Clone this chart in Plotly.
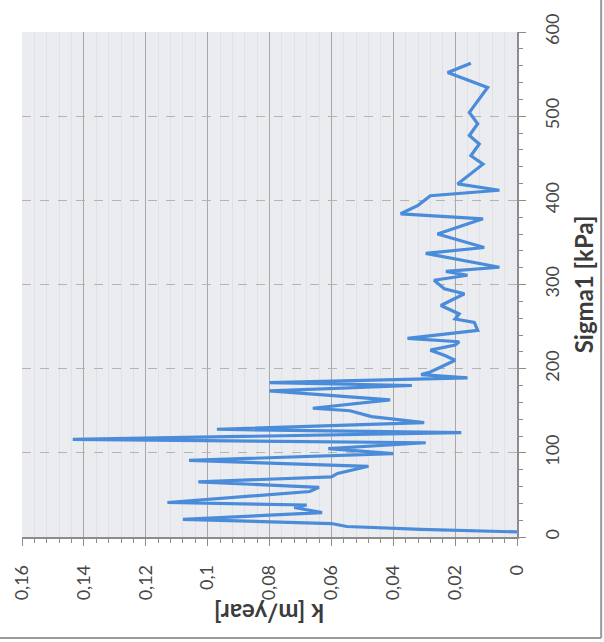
import plotly.graph_objects as go

# Permeability k [m/year] against axial stress Sigma1 [kPa]
sigma1 = [6, 9, 12.5, 16, 21, 29, 35, 38, 41, 54, 59, 65.5, 71.5, 75.5, 84,
          91, 99, 105, 112, 116, 124, 128, 136, 143, 150, 153, 163, 173.5,
          180, 183.5, 189, 193, 196, 210, 216, 222, 228, 232, 236, 241.5,
          245.5, 255, 259, 265, 275, 289, 295, 305, 311, 315.5, 320.5, 337,
          344, 360, 378, 384, 394, 405.5, 412, 419.5, 443, 453, 467, 477,
          491, 504.5, 534, 552, 563]
k_values = [0.000, 0.031, 0.055, 0.060, 0.108, 0.063, 0.072, 0.068, 0.113,
            0.067, 0.064, 0.103, 0.060, 0.058, 0.048, 0.106, 0.040, 0.061,
            0.0295, 0.1436, 0.018, 0.097, 0.030, 0.047, 0.054, 0.066, 0.041,
            0.080, 0.034, 0.080, 0.016, 0.031, 0.028, 0.020, 0.0235, 0.028,
            0.020, 0.0187, 0.0354, 0.0225, 0.0127, 0.0138, 0.020, 0.0187,
            0.0246, 0.017, 0.0235, 0.0268, 0.016, 0.023, 0.0057, 0.0295,
            0.0106, 0.0257, 0.011, 0.0376, 0.032, 0.028, 0.0057, 0.0192,
            0.011, 0.0149, 0.0122, 0.0154, 0.0127, 0.0154, 0.0095, 0.0224,
            0.0149]

k_ticks = [0, 0.02, 0.04, 0.06, 0.08, 0.10, 0.12, 0.14, 0.16]
k_tick_labels = ["0", "0,02", "0,04", "0,06", "0,08", "0,1", "0,12", "0,14", "0,16"]
sigma_ticks = [0, 100, 200, 300, 400, 500, 600]
sigma_tick_labels = ["0", "100", "200", "300", "400", "500", "600"]

FONT = "Lato, Liberation Sans, sans-serif"
TEXT = "#474747"
AXIS = "#8c8c8c"

fig = go.Figure()
fig.add_trace(go.Scatter(
    x=k_values, y=sigma1, mode="lines",
    line=dict(color="#4b8cda", width=3.2),
    showlegend=False, hoverinfo="skip",
))

fig.update_layout(
    template="none",
    width=604, height=642,
    margin=dict(l=22, r=87, t=32, b=105, autoexpand=False),
    paper_bgcolor="white",
    plot_bgcolor="#eaecf0",
    font=dict(family=FONT, color=TEXT),
    xaxis=dict(
        range=[0.16, 0], autorange=False, automargin=False,
        tickvals=k_ticks, ticktext=k_tick_labels, tickangle=-90,
        tickfont=dict(size=18, color=TEXT),
        ticks="outside", ticklen=7, tickcolor=AXIS, tickwidth=1,
        ticklabelstandoff=12,
        showline=True, linecolor=AXIS, linewidth=1.5, mirror=False,
        showgrid=True, gridcolor="#a8a8a8", gridwidth=1,
        zeroline=False,
        minor=dict(dtick=0.004, ticks="outside", ticklen=4, tickcolor=AXIS,
                   showgrid=True, gridcolor="#dfe1e6", gridwidth=1),
    ),
    yaxis=dict(
        range=[0, 600], autorange=False, automargin=False, side="right",
        tickvals=sigma_ticks, ticktext=sigma_tick_labels, tickangle=-90,
        tickfont=dict(size=18, color=TEXT),
        ticks="outside", ticklen=7, tickcolor=AXIS, tickwidth=1,
        ticklabelstandoff=12,
        showline=True, linecolor=AXIS, linewidth=1.5,
        showgrid=True, gridcolor="#b4b4b4", gridwidth=1, griddash="dash",
        zeroline=False,
        minor=dict(dtick=20, ticks="outside", ticklen=4, tickcolor=AXIS,
                   showgrid=False),
    ),
    annotations=[
        dict(text="<b>Sigma1 [kPa]</b>", xref="paper", yref="paper",
             x=1.135, y=0.5, textangle=-90, showarrow=False,
             xanchor="center", yanchor="middle",
             font=dict(size=24, color="#3c3c3c", family=FONT)),
        dict(text="<b>k [m/year]</b>", xref="paper", yref="paper",
             x=0.5, y=-0.15, textangle=180, showarrow=False,
             xanchor="center", yanchor="middle",
             font=dict(size=24, color="#3c3c3c", family=FONT)),
    ],
    shapes=[
        # outer chart frame along the bottom and right edges
        dict(type="line", xref="paper", yref="paper",
             x0=-0.05, x1=1.17, y0=-0.2, y1=-0.2,
             line=dict(color="#9a9a9a", width=2)),
        dict(type="line", xref="paper", yref="paper",
             x0=1.17, x1=1.17, y0=-0.2, y1=1.08,
             line=dict(color="#9a9a9a", width=2)),
    ],
)

fig.write_html("out.html")
